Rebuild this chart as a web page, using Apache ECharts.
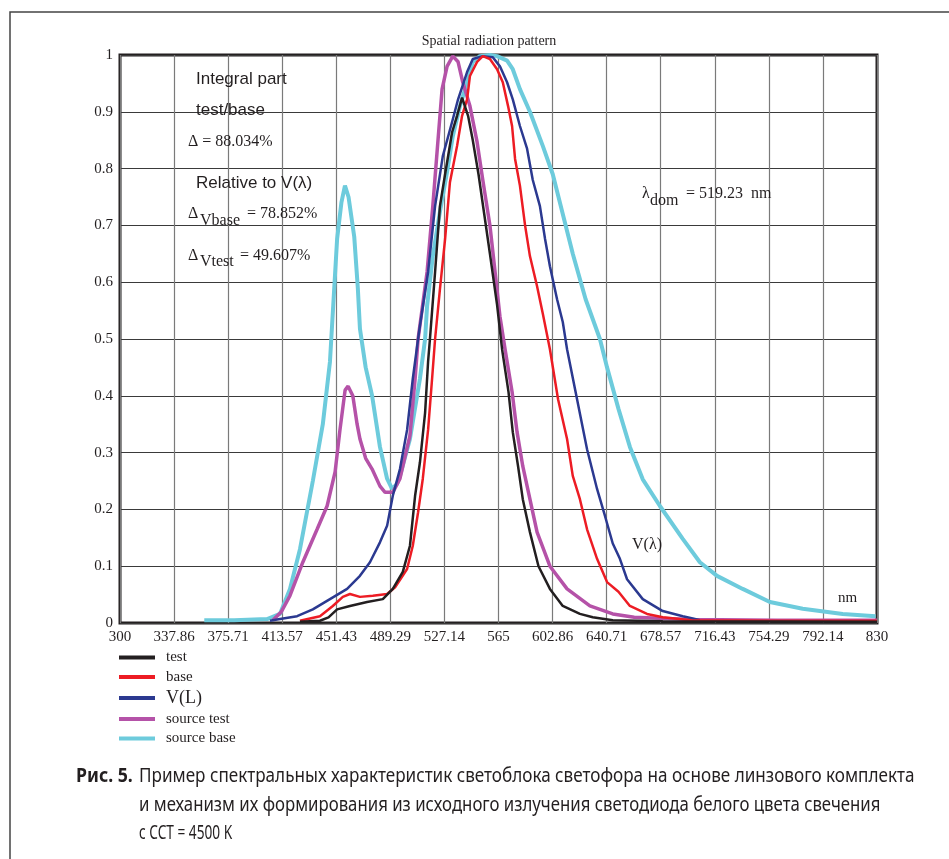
<!DOCTYPE html>
<html>
<head>
<meta charset="utf-8">
<script src="https://cdn.jsdelivr.net/npm/echarts@6/dist/echarts.min.js"></script>
<style>
  html, body { margin: 0; padding: 0; background: #fff; }
  #chart { width: 949px; height: 859px; }
</style>
</head>
<body>
<div id="chart"></div>
<script>
// tick labels of the wavelength axis (nm)
const tickLabels = ['300', '337.86', '375.71', '413.57', '451.43', '489.29', '527.14', '565',
  '602.86', '640.71', '678.57', '716.43', '754.29', '792.14', '830'];

const seriesNames = ['test', 'base', 'V(L)', 'source test', 'source base'];

// [nm, relative value]
const testData = [
  [426, 0.002], [440, 0.004], [446, 0.01], [452, 0.024], [461, 0.03], [473, 0.037], [484, 0.042],
  [491, 0.06], [498, 0.09], [503, 0.136], [506.6, 0.224], [510, 0.283], [513.6, 0.37], [515.7, 0.46],
  [517, 0.5], [520.6, 0.618], [524, 0.734], [527.6, 0.79], [532.5, 0.864], [536, 0.893], [539.5, 0.925],
  [543.7, 0.893], [547, 0.85], [551, 0.79], [555, 0.72], [559, 0.65], [564, 0.56], [567.5, 0.482],
  [572, 0.407], [575, 0.336], [578.7, 0.276], [582, 0.218], [587, 0.16], [593, 0.1], [601, 0.06],
  [610, 0.03], [622, 0.016], [631, 0.01], [645, 0.005], [680, 0.003], [830, 0.002]
];

const baseData = [
  [426, 0.004], [440, 0.012], [449, 0.03], [456, 0.046], [461, 0.051], [468, 0.046], [477, 0.048],
  [487, 0.051], [492.6, 0.063], [501, 0.095], [505, 0.136], [508.7, 0.195], [512, 0.254], [515.7, 0.34],
  [518.5, 0.43], [520.6, 0.5], [524, 0.588], [527.6, 0.676], [531, 0.776], [536, 0.84], [539.5, 0.893],
  [543, 0.922], [545, 0.963], [550, 0.988], [554, 0.998], [559, 0.993], [564, 0.975], [568, 0.952],
  [571.7, 0.91], [574.5, 0.875], [576.6, 0.817], [580, 0.77], [583.6, 0.7], [587, 0.646], [592, 0.593],
  [596, 0.545], [601, 0.482], [606.7, 0.394], [613, 0.324], [617, 0.259], [622, 0.218], [627, 0.165],
  [634, 0.113], [641, 0.072], [649, 0.055], [657, 0.03], [669, 0.016], [680, 0.01], [700, 0.005],
  [760, 0.004], [830, 0.004]
];

const vlData = [
  [405, 0.004], [412, 0.007], [424, 0.012], [435, 0.024], [447, 0.042], [459, 0.06], [468, 0.083],
  [475, 0.107], [482, 0.142], [487, 0.171], [491, 0.224], [496, 0.271], [501, 0.34], [505, 0.43],
  [509.5, 0.515], [515.7, 0.618], [520.6, 0.734], [526, 0.822], [532.5, 0.882], [536.7, 0.922],
  [543, 0.97], [547, 0.993], [554, 0.998], [561, 0.996], [566, 0.98], [571, 0.952], [575, 0.922],
  [580, 0.875], [585, 0.835], [589, 0.78], [594, 0.734], [597.6, 0.676], [601, 0.628], [606, 0.57],
  [610, 0.53], [613, 0.482], [620, 0.394], [627, 0.306], [634, 0.236], [639.6, 0.188], [645, 0.14],
  [650, 0.113], [655, 0.077], [666, 0.042], [680, 0.021], [694, 0.012], [701, 0.008], [706, 0.005]
];

const sourceTestData = [
  [407, 0.005], [413, 0.02], [419, 0.048], [428, 0.107], [438, 0.165], [445, 0.206], [450.6, 0.266],
  [454, 0.34], [457.6, 0.41], [459.7, 0.417], [463, 0.4], [466, 0.35], [468, 0.324], [472, 0.29],
  [476.5, 0.271], [482, 0.241], [485.6, 0.23], [491, 0.23], [496, 0.254], [503, 0.33], [506.6, 0.43],
  [508.7, 0.5], [515, 0.618], [519, 0.734], [522.7, 0.852], [525.5, 0.94], [529, 0.98], [533, 0.998],
  [536.7, 0.988], [540, 0.952], [545, 0.91], [550, 0.847], [554, 0.78], [559, 0.7], [562.6, 0.618],
  [566, 0.54], [569.6, 0.482], [574.5, 0.407], [578, 0.336], [582, 0.276], [587, 0.218], [592, 0.16],
  [601, 0.1], [613, 0.06], [629, 0.03], [645, 0.016], [660, 0.01], [700, 0.006], [760, 0.005],
  [830, 0.005]
];

const sourceBaseData = [
  [359, 0.005], [380, 0.005], [403, 0.007], [412, 0.016], [419, 0.06], [426, 0.13], [435, 0.25],
  [442, 0.35], [447, 0.46], [452, 0.676], [455, 0.74], [457.5, 0.77], [460, 0.75], [464, 0.68],
  [466.5, 0.59], [468, 0.518], [472, 0.45], [476.5, 0.4], [482, 0.31], [487, 0.254], [490.5, 0.236],
  [494, 0.245], [496, 0.259], [503, 0.324], [510, 0.43], [513.6, 0.5], [515, 0.558], [519, 0.646],
  [524, 0.724], [529, 0.794], [533, 0.857], [538, 0.91], [543, 0.952], [547, 0.988], [552, 0.998],
  [559, 1.0], [564, 0.998], [571, 0.99], [575, 0.975], [580, 0.94], [587, 0.9], [596, 0.84],
  [603, 0.79], [610, 0.72], [617, 0.65], [626, 0.57], [636, 0.5], [641, 0.45], [649, 0.377],
  [657, 0.31], [666, 0.253], [678, 0.206], [694, 0.148], [706, 0.107], [718, 0.083], [736, 0.06],
  [755, 0.037], [778, 0.025], [806, 0.016], [829, 0.012]
];

const colors = ['#231f20', '#ed1c24', '#2b3990', '#b552a8', '#6dcbdc'];
const widths = [2.5, 2.5, 2.5, 3.5, 4];
const allData = [testData, baseData, vlData, sourceTestData, sourceBaseData];
const zOrder = [6, 5, 4, 3, 2];

const serif = '"Liberation Serif", "DejaVu Serif", serif';
const sans = '"Liberation Sans", Arial, sans-serif';
const capFont = '"Noto Sans", Roboto, sans-serif';
const ink = '#231f20';

function txt(x, y, text, size, family, extra) {
  return Object.assign({
    type: 'text', x: x, y: y, z: 100,
    style: { text: text, fill: ink, font: size + 'px ' + family, verticalAlign: 'middle' }
  }, extra || {});
}

const chart = echarts.init(document.getElementById('chart'));

const option = {
  animation: false,
  backgroundColor: '#fff',
  grid: {
    left: 120, top: 55, right: 72, bottom: 236,
    show: true, borderColor: ink, borderWidth: 3, backgroundColor: 'transparent'
  },
  xAxis: [
    {
      type: 'value', min: 300, max: 830,
      axisLine: { show: false }, axisTick: { show: false },
      axisLabel: { show: false }, splitLine: { show: false }
    },
    {
      type: 'category', data: tickLabels, boundaryGap: false, position: 'bottom',
      axisLine: { show: false }, axisTick: { show: false },
      axisLabel: { fontFamily: serif, fontSize: 15, color: ink, margin: 7, interval: 0 },
      splitLine: { show: true, lineStyle: { color: '#7a7a7a', width: 1.2 } }
    }
  ],
  yAxis: {
    type: 'value', min: 0, max: 1, interval: 0.1,
    axisLine: { show: false }, axisTick: { show: false },
    axisLabel: { fontFamily: serif, fontSize: 15, color: ink, margin: 7 },
    splitLine: { show: true, lineStyle: { color: '#3a3a3a', width: 1.2 } }
  },
  legend: {
    data: seriesNames,
    orient: 'vertical', left: 119, top: 650, padding: 0,
    icon: 'rect', itemWidth: 36, itemHeight: 4, itemGap: 4.5,
    textStyle: {
      fontFamily: serif, fontSize: 15, color: ink, lineHeight: 15, padding: [0, 0, 0, 6],
      rich: { big: { fontFamily: serif, fontSize: 18, lineHeight: 15, color: ink } }
    },
    formatter: function (name) { return name === 'V(L)' ? '{big|' + name + '}' : name; }
  },
  series: seriesNames.map(function (name, i) {
    return {
      name: name, type: 'line', xAxisIndex: 0, data: allData[i],
      showSymbol: false, symbol: 'none', z: zOrder[i],
      itemStyle: { color: colors[i] },
      lineStyle: { color: colors[i], width: widths[i] }
    };
  }),
  graphic: [
    { type: 'rect', shape: { x: 10, y: 12, width: 1000, height: 1000 },
      style: { fill: 'none', stroke: '#444', lineWidth: 1.5 }, z: 100 },
    { type: 'text', x: 489, y: 41, z: 100,
      style: { text: 'Spatial radiation pattern', fill: ink, font: '14px ' + serif, align: 'center', verticalAlign: 'middle' } },
    txt(196, 79, 'Integral part', 17, sans),
    txt(196, 110, 'test/base', 17, sans),
    txt(188, 142, 'Δ = 88.034%', 16, serif),
    txt(196, 183, 'Relative to V(λ)', 17, sans),
    txt(188, 214, 'Δ', 16, serif),
    txt(200, 221, 'Vbase', 16, serif),
    txt(247, 214, '= 78.852%', 16, serif),
    txt(188, 256, 'Δ', 16, serif),
    txt(200, 262, 'Vtest', 16, serif),
    txt(240, 256, '= 49.607%', 16, serif),
    txt(642, 194, 'λ', 16, serif),
    txt(650, 201, 'dom', 16, serif),
    txt(686, 194, '= 519.23  nm', 16, serif),
    txt(632, 545, 'V(λ)', 16, serif),
    txt(838, 598, 'nm', 15, serif),
    { type: 'text', x: 76, y: 777, z: 100, scaleX: 0.93,
      style: { text: 'Рис. 5.', fill: ink, font: 'bold 19px ' + capFont, verticalAlign: 'middle' } },
    txt(139, 777, 'Пример спектральных характеристик светоблока светофора на основе линзового комплекта', 19, capFont, { scaleX: 0.9 }),
    txt(139, 806, 'и механизм их формирования из исходного излучения светодиода белого цвета свечения', 19, capFont, { scaleX: 0.883 }),
    txt(139, 834, 'с CCT = 4500 K', 19, capFont, { scaleX: 0.72 })
  ]
};

chart.setOption(option);
</script>
</body>
</html>
